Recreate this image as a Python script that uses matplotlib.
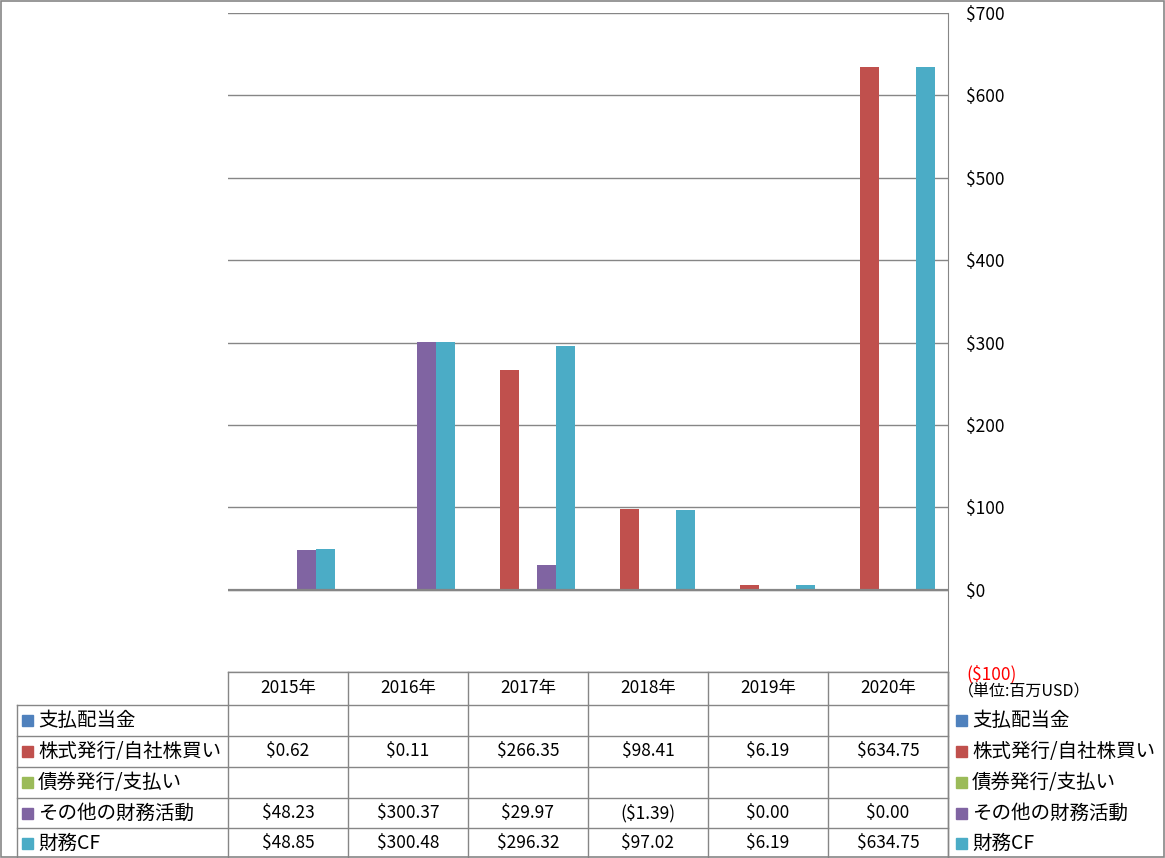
import numpy as np
import matplotlib.pyplot as plt
from matplotlib.patches import Rectangle
from matplotlib.lines import Line2D

plt.rcParams['font.family'] = ['Noto Sans CJK JP', 'DejaVu Sans']

# Data (millions USD)
years = ['2015年', '2016年', '2017年', '2018年', '2019年', '2020年']
series_names = ['支払配当金', '株式発行/自社株買い', '債券発行/支払い', 'その他の財務活動', '財務CF']
dividends = [np.nan] * 6
stock = [0.62, 0.11, 266.35, 98.41, 6.19, 634.75]
bonds = [np.nan] * 6
other = [48.23, 300.37, 29.97, -1.39, 0.00, 0.00]
financing_cf = [48.85, 300.48, 296.32, 97.02, 6.19, 634.75]
colors = ['#4F81BD', '#C0504D', '#9BBB59', '#8064A2', '#4BACC6']
y_ticks = [-100, 0, 100, 200, 300, 400, 500, 600, 700]

all_series = [dividends, stock, bonds, other, financing_cf]

W, H = 1165, 858
fig = plt.figure(figsize=(W / 100, H / 100), dpi=100)

def fx(px):
    return px / W

def fy(py):
    return 1 - py / H

grid_c = '#868686'
left, right, top, bottom = 228, 948, 13, 672
ax = fig.add_axes([fx(left), fy(bottom), fx(right - left), (bottom - top) / H])

# Bars
bw = 0.155
x = np.arange(len(years))
for j, vals in enumerate(all_series):
    ax.bar(x + (j - 2) * bw, vals, width=bw, color=colors[j], zorder=3)

ax.set_xlim(-0.5, len(years) - 0.5)
ax.set_ylim(-100, 700)
ax.set_yticks(y_ticks)
ax.yaxis.tick_right()
ax.tick_params(axis='y', length=0, pad=13, labelsize=12.5)
ax.set_xticks([])
ax.set_yticklabels(['($%d)' % -v if v < 0 else '$%d' % v for v in y_ticks])
for lbl in ax.get_yticklabels():
    lbl.set_horizontalalignment('left')
    if lbl.get_text().startswith('('):
        lbl.set_color('#FF0000')
        lbl.set_y(-102)
ax.grid(axis='y', color=grid_c, lw=1, zorder=0)
ax.axhline(0, color=grid_c, lw=1.6, zorder=4)
for s in ['left', 'top', 'bottom']:
    ax.spines[s].set_visible(False)
ax.spines['right'].set_color(grid_c)

# Unit label
fig.text(fx(958), fy(692), '（単位:百万USD）', fontsize=11.5, va='center', ha='left')

# Data table
row_lines = [672, 705, 736, 767, 798, 828, 858]
col_edges = [left + (right - left) * i / len(years) for i in range(len(years) + 1)]
tab_left = 17

def add_line(xs, ys):
    fig.add_artist(Line2D([fx(v) for v in xs], [fy(v) for v in ys], color=grid_c, lw=1))

add_line([left, right], [row_lines[0], row_lines[0]])
for r in row_lines[1:-1]:
    add_line([tab_left, right], [r, r])
for c in col_edges:
    add_line([c, c], [row_lines[0], H])
add_line([tab_left, tab_left], [row_lines[1], H])
add_line([right, right], [row_lines[0], H])

def fmt(v):
    if np.isnan(v):
        return ''
    if v < 0:
        return '($%.2f)' % -v
    return '$%.2f' % v

for i, yr in enumerate(years):
    cx = (col_edges[i] + col_edges[i + 1]) / 2
    fig.text(fx(cx), fy((row_lines[0] + row_lines[1]) / 2), yr,
             fontsize=12.5, ha='center', va='center')
    for j, vals in enumerate(all_series):
        cy = (row_lines[j + 1] + row_lines[j + 2]) / 2
        fig.text(fx(cx), fy(cy), fmt(vals[i]), fontsize=12.5, ha='center', va='center')

# Row labels (left) and legend (right)
sq = 11
for j, name in enumerate(series_names):
    cy = (row_lines[j + 1] + row_lines[j + 2]) / 2
    for x0 in [22, 956]:
        fig.add_artist(Rectangle((fx(x0), fy(cy + sq / 2)), fx(sq), sq / H,
                                 color=colors[j], transform=fig.transFigure))
        fig.text(fx(x0 + sq + 5), fy(cy), name, fontsize=14, ha='left', va='center')

# Outer border
fig.add_artist(Rectangle((fx(1), fy(H - 1)), fx(W - 2), (H - 2) / H, fill=False,
                         edgecolor=grid_c, lw=1.2, transform=fig.transFigure))

fig.savefig('out.png', dpi=100)
